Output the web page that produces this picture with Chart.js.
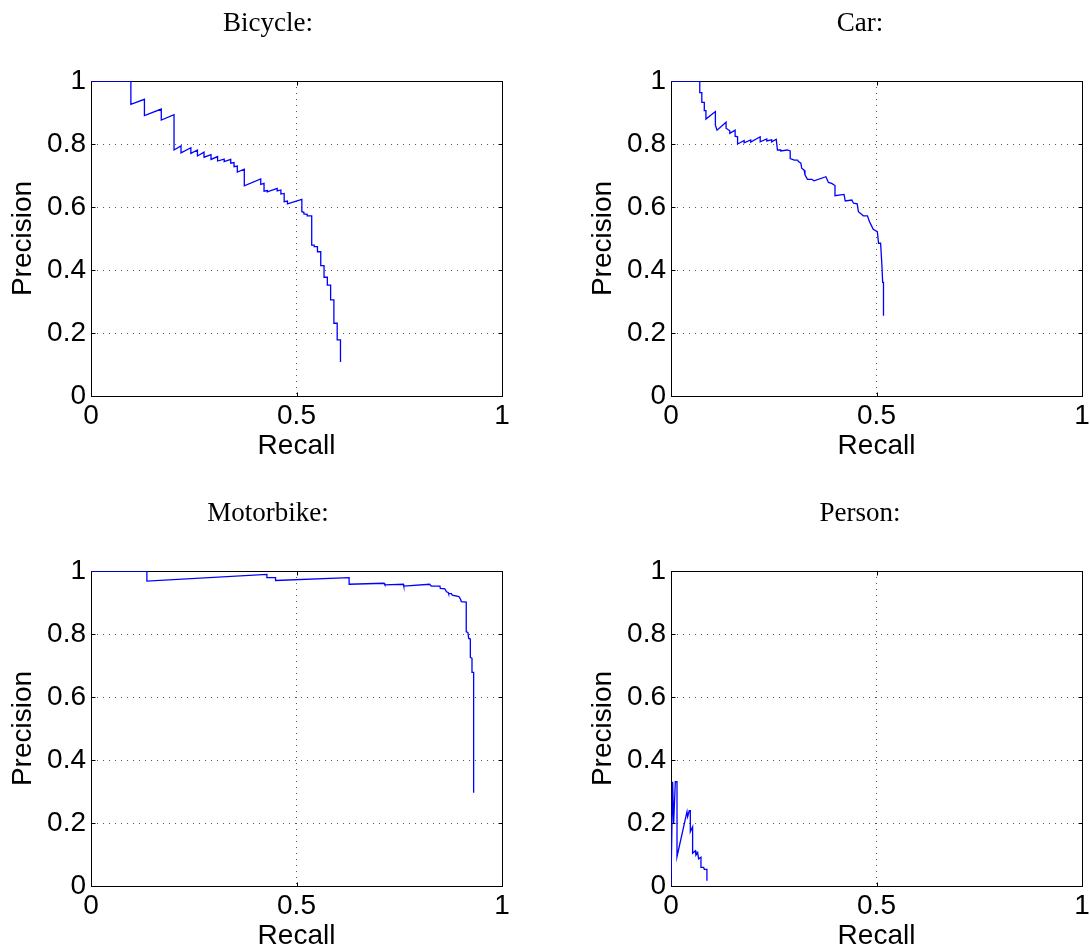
<!DOCTYPE html>
<html>
<head>
<meta charset="utf-8">
<script src="https://cdn.jsdelivr.net/npm/chart.js@4.4.1/dist/chart.umd.min.js"></script>
<style>
  html, body { margin: 0; padding: 0; background: #fff; }
  body { width: 1090px; height: 948px; overflow: hidden; position: relative; }
  canvas { position: absolute; }
</style>
</head>
<body>
<canvas id="bicycleChart" width="536" height="462" style="left:0;top:0"></canvas>
<canvas id="carChart" width="560" height="462" style="left:580px;top:0"></canvas>
<canvas id="motorbikeChart" width="536" height="462" style="left:0;top:490px"></canvas>
<canvas id="personChart" width="560" height="462" style="left:580px;top:490px"></canvas>
<script>
// --- Ticks ---
const xTickLabels = ['0', '0.5', '1'];
const yTickLabels = ['0', '0.2', '0.4', '0.6', '0.8', '1'];

// --- Bicycle ---
const bicycleRecall = [0, 0.097, 0.097, 0.130, 0.130, 0.171, 0.171, 0.202, 0.202, 0.219, 0.219, 0.243, 0.243,
  0.259, 0.259, 0.275, 0.275, 0.292, 0.292, 0.308, 0.308, 0.324, 0.324, 0.340, 0.340, 0.348, 0.348, 0.356, 0.356,
  0.373, 0.373, 0.413, 0.413, 0.421, 0.421, 0.429, 0.429, 0.453, 0.453, 0.462, 0.462, 0.470, 0.470, 0.478, 0.478,
  0.513, 0.513, 0.518, 0.518, 0.526, 0.526, 0.537, 0.537, 0.543, 0.543, 0.551, 0.551, 0.559, 0.559, 0.567, 0.567,
  0.575, 0.575, 0.583, 0.583, 0.591, 0.591, 0.599, 0.599, 0.607, 0.607];
const bicyclePrecision = [1, 1, 0.926, 0.942, 0.890, 0.911, 0.876, 0.893, 0.781, 0.794, 0.772, 0.788, 0.770,
  0.781, 0.762, 0.774, 0.758, 0.766, 0.751, 0.760, 0.746, 0.752, 0.744, 0.751, 0.739, 0.741, 0.728, 0.730, 0.711,
  0.720, 0.667, 0.689, 0.672, 0.675, 0.650, 0.652, 0.648, 0.659, 0.651, 0.654, 0.641, 0.643, 0.617, 0.619, 0.610,
  0.624, 0.585, 0.583, 0.578, 0.577, 0.572, 0.572, 0.479, 0.479, 0.474, 0.474, 0.458, 0.458, 0.414, 0.414, 0.377,
  0.377, 0.352, 0.352, 0.305, 0.305, 0.231, 0.231, 0.178, 0.178, 0.108];

// --- Car ---
const carRecall = [0, 0.070, 0.070, 0.075, 0.075, 0.081, 0.081, 0.085, 0.085, 0.108, 0.108, 0.112, 0.134, 0.134,
  0.143, 0.143, 0.156, 0.156, 0.162, 0.162, 0.178, 0.178, 0.194, 0.194, 0.217, 0.217, 0.233, 0.233, 0.245, 0.245,
  0.256, 0.259, 0.267, 0.267, 0.283, 0.290, 0.290, 0.300, 0.308, 0.310, 0.316, 0.318, 0.324, 0.326, 0.332, 0.343,
  0.348, 0.377, 0.383, 0.391, 0.399, 0.399, 0.421, 0.424, 0.440, 0.444, 0.453, 0.456, 0.468, 0.478, 0.483, 0.488,
  0.492, 0.502, 0.505, 0.510, 0.513, 0.515, 0.517, 0.517];
const carPrecision = [1, 1, 0.963, 0.963, 0.932, 0.932, 0.906, 0.906, 0.879, 0.903, 0.860, 0.844, 0.869, 0.850,
  0.842, 0.834, 0.844, 0.825, 0.823, 0.800, 0.811, 0.804, 0.813, 0.806, 0.823, 0.807, 0.816, 0.810, 0.813, 0.807,
  0.815, 0.781, 0.781, 0.778, 0.781, 0.778, 0.754, 0.749, 0.749, 0.744, 0.739, 0.723, 0.717, 0.702, 0.688, 0.688,
  0.683, 0.696, 0.678, 0.675, 0.668, 0.636, 0.640, 0.619, 0.622, 0.612, 0.610, 0.585, 0.572, 0.572, 0.553, 0.540,
  0.529, 0.522, 0.485, 0.485, 0.419, 0.361, 0.361, 0.255];

// --- Motorbike ---
const motorbikeRecall = [0, 0.136, 0.136, 0.428, 0.428, 0.449, 0.449, 0.628, 0.628, 0.713, 0.715, 0.760, 0.761,
  0.824, 0.828, 0.849, 0.850, 0.861, 0.865, 0.869, 0.870, 0.877, 0.879, 0.895, 0.899, 0.901, 0.913, 0.913, 0.917,
  0.919, 0.923, 0.923, 0.927, 0.927, 0.931, 0.931];
const motorbikePrecision = [1, 1, 0.968, 0.989, 0.979, 0.979, 0.970, 0.979, 0.958, 0.961, 0.956, 0.958, 0.952,
  0.958, 0.952, 0.952, 0.945, 0.943, 0.934, 0.932, 0.928, 0.928, 0.923, 0.919, 0.911, 0.903, 0.901, 0.807, 0.805,
  0.786, 0.784, 0.726, 0.723, 0.678, 0.678, 0.296];

// --- Person ---
const personRecall = [0, 0.004, 0.0065, 0.0105, 0.0146, 0.0146, 0.0389, 0.0405, 0.0445, 0.047, 0.047, 0.0526,
  0.0526, 0.0591, 0.0607, 0.0648, 0.0672, 0.0729, 0.0729, 0.0794, 0.081, 0.0874, 0.0874];
const personPrecision = [0.003, 0.331, 0.199, 0.331, 0.331, 0.093, 0.236, 0.220, 0.239, 0.239, 0.172, 0.188,
  0.104, 0.112, 0.098, 0.106, 0.086, 0.091, 0.059, 0.059, 0.053, 0.053, 0.017];

Chart.defaults.color = '#000';
Chart.defaults.animation = false;

const SANS = "'Liberation Sans', Arial, sans-serif";
const SERIF = "'Liberation Serif', 'Times New Roman', serif";

// caja negra + marcas hacia dentro (estilo matlab)
const framePlugin = {
  id: 'frame',
  beforeDatasetsDraw(chart) {
    const { ctx, chartArea: a, scales: { x, y } } = chart;
    const L = Math.round(a.left) + 0.5, R = Math.round(a.right) + 0.5;
    const T = Math.round(a.top) + 0.5, B = Math.round(a.bottom) + 0.5;
    ctx.save();
    ctx.strokeStyle = '#000';
    ctx.lineWidth = 1;
    ctx.strokeRect(L, T, R - L, B - T);
    ctx.beginPath();
    x.ticks.forEach(t => {
      const px = Math.round(x.getPixelForValue(t.value)) + 0.5;
      ctx.moveTo(px, B); ctx.lineTo(px, B - 4);
      ctx.moveTo(px, T); ctx.lineTo(px, T + 4);
    });
    y.ticks.forEach(t => {
      const py = Math.round(y.getPixelForValue(t.value)) + 0.5;
      ctx.moveTo(L, py); ctx.lineTo(L + 4, py);
      ctx.moveTo(R, py); ctx.lineTo(R - 4, py);
    });
    ctx.stroke();
    ctx.restore();
  }
};

const gridColor = c => (c.tick && (c.tick.value === 0 || c.tick.value === 1)) ? 'rgba(0,0,0,0)' : '#555';

function makeChart(id, title, recall, precision) {
  const canvas = document.getElementById(id);
  const rightGap = canvas.width - 502;
  return new Chart(canvas.getContext('2d'), {
    type: 'line',
    data: {
      datasets: [{
        data: recall.map((r, i) => ({ x: r, y: precision[i] })),
        borderColor: '#0000ff',
        borderWidth: 1.3,
        pointRadius: 0,
        tension: 0,
        fill: false
      }]
    },
    options: {
      responsive: false,
      layout: { padding: 0 },
      plugins: {
        legend: { display: false },
        tooltip: { enabled: false },
        title: {
          display: true,
          text: title,
          color: '#000',
          font: { family: SERIF, size: 27, weight: 'normal', lineHeight: 1.2 },
          padding: { top: 8, bottom: 40.6 }
        }
      },
      scales: {
        x: {
          type: 'linear',
          min: 0, max: 1,
          ticks: {
            stepSize: 0.5,
            padding: 3,
            maxRotation: 0,
            font: { family: SANS, size: 28 },
            callback: (v, i) => xTickLabels[i]
          },
          grid: { color: gridColor, lineWidth: 1, drawTicks: false },
          border: { display: false, dash: [1, 5] },
          title: {
            display: true, text: 'Recall',
            font: { family: SANS, size: 28, lineHeight: 1 },
            padding: { top: 0, bottom: 2 }
          },
          afterFit: s => { s.height = 66; }
        },
        y: {
          type: 'linear',
          min: 0, max: 1,
          ticks: {
            stepSize: 0.2,
            padding: 5,
            font: { family: SANS, size: 28 },
            callback: (v, i) => yTickLabels[i]
          },
          grid: { color: gridColor, lineWidth: 1, drawTicks: false },
          border: { display: false, dash: [1, 5] },
          title: {
            display: true, text: 'Precision',
            font: { family: SANS, size: 28, lineHeight: 1 },
            padding: { top: 9, bottom: 0 }
          },
          afterFit: s => { s.width = 91; }
        },
        // eje vacio a la derecha: solo reserva el margen (asi el titulo queda centrado en todo el canvas)
        yRight: {
          type: 'linear',
          position: 'right',
          min: 0, max: 1,
          ticks: { display: false },
          grid: { display: false, drawTicks: false },
          border: { display: false },
          afterFit: s => { s.width = rightGap; }
        }
      }
    },
    plugins: [framePlugin]
  });
}

makeChart('bicycleChart', 'Bicycle:', bicycleRecall, bicyclePrecision);
makeChart('carChart', 'Car:', carRecall, carPrecision);
makeChart('motorbikeChart', 'Motorbike:', motorbikeRecall, motorbikePrecision);
makeChart('personChart', 'Person:', personRecall, personPrecision);
</script>
</body>
</html>
